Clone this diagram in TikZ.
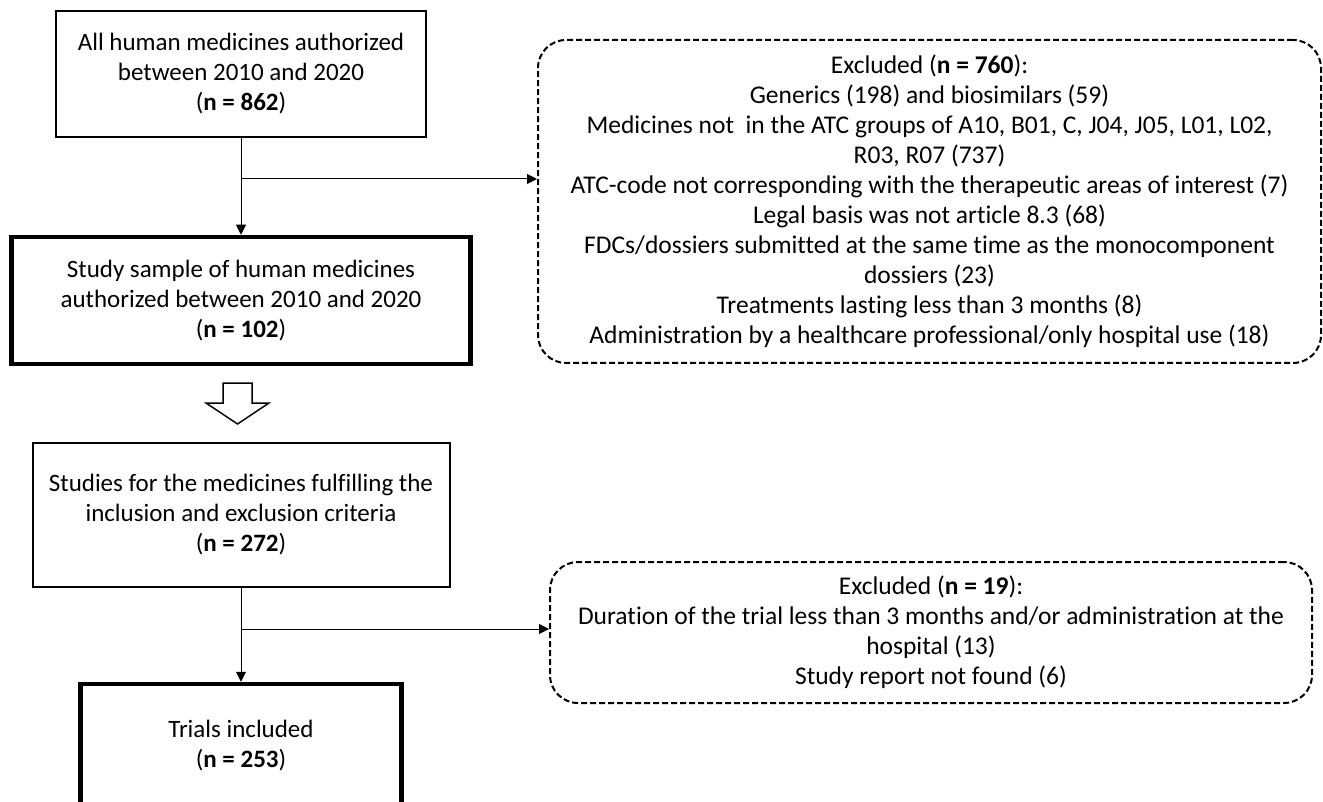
\documentclass[tikz,border=0pt]{standalone}
\usepackage{fontspec}
\setmainfont{Carlito}[Ligatures={NoCommon}]
\usetikzlibrary{arrows.meta}
\tikzset{
  base/.style={draw=black, align=center, inner sep=0pt, font=\fontsize{25}{30}\selectfont},
  thinbox/.style={base, line width=2pt},
  thickbox/.style={base, line width=4.5pt},
  exbox/.style={base, line width=2pt, dash pattern=on 6pt off 3pt, rounded corners=28pt, font=\fontsize{25.5}{30}\selectfont},
  conn/.style={line width=1pt, -{Triangle[length=10pt,width=10pt]}},
  hollow/.style={draw=black, line width=1.5pt, fill=white, line join=miter}
}
\begin{document}
\begin{tikzpicture}[x=1pt,y=-1pt]
\clip (0,0) rectangle (1323,802);
\fill[white] (0,0) rectangle (1323,802);

\node[thinbox, minimum width=370pt, minimum height=126pt] (b1) at (241,74)
  {All human medicines authorized\\between 2010 and 2020\\(\textbf{n = 862})};
\node[thickbox, minimum width=459pt, minimum height=127pt] (b2) at (241,300.5)
  {Study sample of human medicines\\authorized between 2010 and 2020\\(\textbf{n = 102})};
\node[thinbox, minimum width=417pt, minimum height=144pt] (b3) at (241,515)
  {Studies for the medicines fulfilling the\\inclusion and exclusion criteria\\(\textbf{n = 272})};
\node[thickbox, minimum width=321pt, minimum height=124pt] (b4) at (241,746)
  {Trials included\\(\textbf{n = 253})};

\node[exbox, minimum width=783pt, minimum height=323pt] (ex1) at (929.5,201.5)
  {Excluded (\textbf{n = 760}):\\
   Generics (198) and biosimilars (59)\\
   Medicines not~ in the ATC groups of A10, B01, C, J04, J05, L01, L02,\\
   R03, R07 (737)\\
   ATC-code not corresponding with the therapeutic areas of interest (7)\\
   Legal basis was not article 8.3 (68)\\
   FDCs/dossiers submitted at the same time as the monocomponent\\
   dossiers (23)\\
   Treatments lasting less than 3 months (8)\\
   Administration by a healthcare professional/only hospital use (18)};
\node[exbox, minimum width=762pt, minimum height=141pt] (ex2) at (931,632.5)
  {Excluded (\textbf{n = 19}):\\
   Duration of the trial less than 3 months and/or administration at the\\
   hospital (13)\\
   Study report not found (6)};

\draw[conn] (b1.south) -- (b2.north);
\coordinate (br1) at (241,179);
\draw[conn] (br1) -- (br1 -| ex1.west);

\draw[conn] (b3.south) -- (b4.north);
\coordinate (br2) at (241,629);
\draw[conn] (br2) -- (br2 -| ex2.west);

\draw[hollow] (223,383) -- (252,383) -- (252,403) -- (269,403) -- (237.5,424)
  -- (206,403) -- (223,403) -- cycle;
\end{tikzpicture}
\end{document}
